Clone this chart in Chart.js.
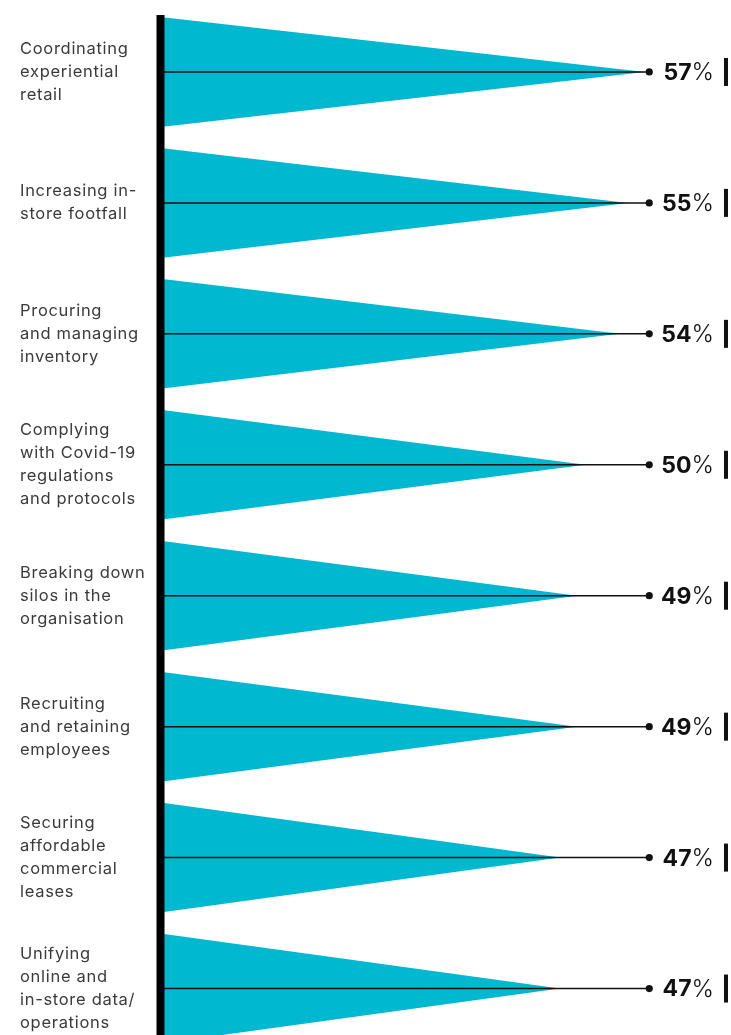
<!DOCTYPE html>
<html>
<head>
<meta charset="utf-8">
<script src="https://cdn.jsdelivr.net/npm/chart.js@4"></script>
<style>
  html, body { margin: 0; padding: 0; background: #fff; overflow: hidden; }
  #wrap { width: 731px; height: 1035px; overflow: hidden; }
</style>
</head>
<body>
<div id="wrap"><canvas id="myChart" width="731" height="1062"></canvas></div>
<script>
// data
const categories = [
	["Coordinating", "experiential", "retail"],
	["Increasing in-", "store footfall"],
	["Procuring", "and managing", "inventory"],
	["Complying", "with Covid-19", "regulations", "and protocols"],
	["Breaking down", "silos in the", "organisation"],
	["Recruiting", "and retaining", "employees"],
	["Securing", "affordable", "commercial", "leases"],
	["Unifying", "online and", "in-store data/", "operations"]
];
const values = [57, 55, 54, 50, 49, 49, 47, 47];
const valueLabels = ["57", "55", "54", "50", "49", "49", "47", "47"];

const CYAN = '#00b8cf';
const LINE_END = 57.5; // where the thin leader lines stop

// wider tracking for the category labels
const spacingPlugin = {
	id: 'spacing',
	beforeDraw(chart) { chart.ctx.letterSpacing = '0.7px'; },
	beforeDatasetsDraw(chart) { chart.ctx.letterSpacing = '0px'; }
};

// draw each bar as a triangle + leader line, dot and value label
const trianglePlugin = {
	id: 'triangles',
	afterDatasetsDraw(chart) {
		const ctx = chart.ctx;
		const xs = chart.scales.x;
		const meta = chart.getDatasetMeta(0);
		const endX = xs.getPixelForValue(LINE_END);

		meta.data.forEach(function(bar, i){
			const p = bar.getProps(['x', 'y', 'base', 'height'], true);
			const half = p.height / 2;

			ctx.save();
			ctx.fillStyle = CYAN;
			ctx.beginPath();
			ctx.moveTo(p.base, p.y - half);
			ctx.lineTo(p.x, p.y);
			ctx.lineTo(p.base, p.y + half);
			ctx.closePath();
			ctx.fill();

			// leader line
			ctx.strokeStyle = '#111';
			ctx.lineWidth = 1.5;
			ctx.beginPath();
			ctx.moveTo(p.base, p.y);
			ctx.lineTo(endX, p.y);
			ctx.stroke();

			ctx.fillStyle = '#111';
			ctx.beginPath();
			ctx.arc(endX, p.y, 3.6, 0, Math.PI * 2);
			ctx.fill();

			// value label, right aligned before the end mark
			const right = chart.width - 17;
			ctx.textBaseline = 'middle';
			ctx.textAlign = 'right';
			ctx.font = '300 24px Inter';
			ctx.fillText('%', right, p.y + 1);
			const pw = ctx.measureText('%').width;
			ctx.font = '700 23px Inter';
			ctx.fillText(valueLabels[i], right - pw, p.y + 1);

			ctx.fillRect(chart.width - 7, p.y - 14, 4, 28);
			ctx.restore();
		});

		// thick axis line
		const first = meta.data[0].getProps(['y', 'height'], true);
		ctx.save();
		ctx.fillStyle = '#000';
		ctx.fillRect(xs.left - 4, first.y - first.height / 2 - 2, 8, chart.height);
		ctx.restore();
	}
};

const ctx = document.getElementById('myChart');
const myChart = new Chart(ctx, {
	type: 'bar',
	data: {
		labels: categories,
		datasets: [{
			data: values,
			backgroundColor: 'rgba(0,0,0,0)',
			borderWidth: 0,
			barPercentage: 0.84,
			categoryPercentage: 1
		}]
	},
	options: {
		indexAxis: 'y',
		responsive: false,
		animation: false,
		layout: { padding: { left: 20, right: 9.5, top: 6.5, bottom: 8 } },
		plugins: {
			legend: { display: false },
			tooltip: { enabled: false }
		},
		scales: {
			x: {
				min: 0,
				max: 66,
				display: false
			},
			y: {
				grid: { display: false },
				border: { display: false },
				afterFit: function(scale){
					scale.width = 140.5;
					scale.paddingTop = 0;
					scale.paddingBottom = 0;
				},
				ticks: {
					crossAlign: 'far',
					color: '#3a3a3a',
					font: { family: 'Inter', size: 16.5, lineHeight: 1.4 }
				}
			}
		}
	},
	plugins: [spacingPlugin, trianglePlugin]
});
</script>
</body>
</html>
